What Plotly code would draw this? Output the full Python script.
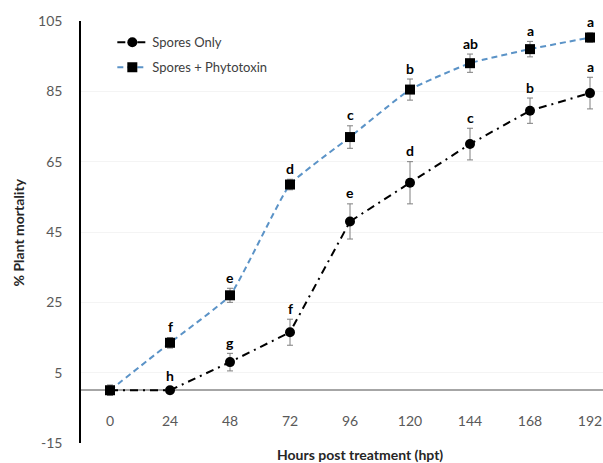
import plotly.graph_objects as go

# Hours post treatment and mean % plant mortality with error (SE)
hours = [0, 24, 48, 72, 96, 120, 144, 168, 192]

spores_only = [0, 0, 8, 16.5, 48, 59, 70, 79.5, 84.5]
spores_only_err = [0, 1, 2.5, 3.7, 5, 6, 4.5, 3.6, 4.5]
spores_only_letters = ["", "h", "g", "f", "e", "d", "c", "b", "a"]

phytotoxin = [0, 13.5, 27, 58.5, 72, 85.5, 93, 97, 100.3]
phytotoxin_err = [1.5, 1.5, 2, 1.5, 3.2, 3, 2.6, 2.2, 1.3]
phytotoxin_letters = ["", "f", "e", "d", "c", "b", "ab", "a", "a"]

y_ticks = [-15, 5, 25, 45, 65, 85, 105]
y_tick_text = ["-15", "5", "25", "45", "65", "85", "105"]

FONT = "Lato"
TICK_COLOR = "#595959"

fig = go.Figure()

fig.add_trace(go.Scatter(
    x=hours, y=spores_only, name="Spores Only",
    mode="lines+markers",
    line=dict(color="black", width=2, dash="8px,5px,2px,5px"),
    marker=dict(symbol="circle", size=10, color="black"),
    error_y=dict(type="data", array=spores_only_err, color="#7f7f7f",
                 thickness=1, width=3),
    legendgroup="a",
))

fig.add_trace(go.Scatter(
    x=hours, y=phytotoxin, name="Spores + Phytotoxin",
    mode="lines+markers",
    line=dict(color="#5B93C7", width=2, dash="6px,4px", shape="spline",
              smoothing=0.4),
    marker=dict(symbol="square", size=10, color="black"),
    error_y=dict(type="data", array=phytotoxin_err, color="#7f7f7f",
                 thickness=1, width=3),
    legendgroup="b",
))

# Significance letters above each error bar
for xs, ys, es, labels in [
    (hours, spores_only, spores_only_err, spores_only_letters),
    (hours, phytotoxin, phytotoxin_err, phytotoxin_letters),
]:
    for x, y, e, t in zip(xs, ys, es, labels):
        if not t:
            continue
        fig.add_annotation(
            x=x, y=y + e, text=f"<b>{t}</b>", showarrow=False,
            yanchor="middle", yshift=11,
            font=dict(family=FONT, size=14, color="black"),
        )

# Axis titles
fig.add_annotation(
    xref="paper", yref="paper", x=0.535, y=-0.028, yanchor="middle",
    text="<b>Hours post treatment (hpt)</b>", showarrow=False,
    font=dict(family=FONT, size=14, color="#262626"),
)
fig.add_annotation(
    xref="paper", yref="paper", x=-0.14, y=0.5, textangle=-90,
    text="<b>% Plant mortality</b>", showarrow=False,
    font=dict(family=FONT, size=14, color="#262626"),
)

fig.update_layout(
    width=603, height=463,
    margin=dict(l=81, r=0, t=21, b=20),
    paper_bgcolor="white", plot_bgcolor="white",
    showlegend=True,
    legend=dict(
        x=0.06, y=0.985, xanchor="left", yanchor="top",
        bgcolor="rgba(0,0,0,0)", traceorder="grouped", tracegroupgap=5,
        font=dict(family=FONT, size=13, color="#404040"),
        itemwidth=30,
    ),
    xaxis=dict(
        range=[-11.6, 197.2],
        tickvals=hours, ticktext=[str(h) for h in hours],
        showgrid=False, zeroline=False,
        showline=True, linecolor="#a6a6a6", linewidth=1.5,
        anchor="free", position=15 / 120, layer="below traces",
        ticks="", ticklabelstandoff=18,
        tickfont=dict(family=FONT, size=14, color=TICK_COLOR),
    ),
    yaxis=dict(
        range=[-15, 105],
        tickvals=y_ticks, ticktext=y_tick_text,
        showgrid=True, gridcolor="#f4f4f4", gridwidth=1,
        zeroline=False,
        showline=True, linecolor="black", linewidth=1.5,
        ticks="", ticklabelstandoff=14,
        tickfont=dict(family=FONT, size=14, color=TICK_COLOR),
    ),
)

fig.write_html("out.html")
